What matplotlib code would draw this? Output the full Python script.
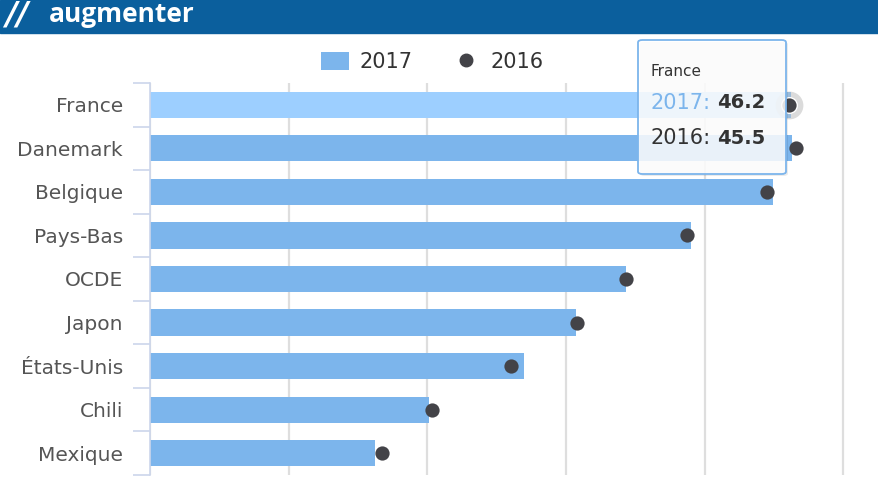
import matplotlib
matplotlib.use('Agg')
import matplotlib.pyplot as plt
from matplotlib.patches import Rectangle, FancyBboxPatch, Patch
from matplotlib.lines import Line2D

pays = ['France', 'Danemark', 'Belgique', 'Pays-Bas', 'OCDE', 'Japon',
        'États-Unis', 'Chili', 'Mexique']
valeurs_2017 = [46.2, 46.3, 44.9, 39.0, 34.3, 30.7, 27.0, 20.1, 16.2]
valeurs_2016 = [46.1, 46.6, 44.5, 38.7, 34.3, 30.8, 26.0, 20.3, 16.7]
series = ['2017', '2016']
tooltip_titre = 'France'
tooltip_valeurs = ['46.2', '45.5']

W, H = 879, 494


def px(x):
    return x / W


def py(y):
    return 1 - y / H


fig = plt.figure(figsize=(W / 100, H / 100), dpi=100)

# bandeau du haut
fig.patches.append(Rectangle((0, py(33)), 1, 33 / H, transform=fig.transFigure,
                             color='#0b5f9d', zorder=0))
fig.text(px(5), py(15), '//', color='white', fontsize=23, fontweight='heavy',
         style='italic', va='center', ha='left', family='DejaVu Sans')
fig.text(px(49), py(14), 'augmenter', color='white', fontsize=19, fontweight='bold',
         va='center', ha='left', family='Open Sans')

ax = fig.add_axes([px(150), py(475), px(860) - px(150), (475 - 83) / H])
y = list(range(len(pays)))
couleurs = ['#9dcfff'] + ['#7cb5ec'] * (len(pays) - 1)
ax.barh(y, valeurs_2017, height=0.6, color=couleurs, zorder=2)
ax.scatter(valeurs_2016[:1], y[:1], s=400, color='#9a9a9a', alpha=0.35, zorder=3, linewidths=0)
ax.scatter(valeurs_2016[:1], y[:1], s=150, color='white', zorder=3.5, linewidths=0)
ax.scatter(valeurs_2016, y, s=105, color='#434348', zorder=4, linewidths=0)

ax.set_xlim(0, 51.2)
ax.set_ylim(len(pays) - 0.5, -0.5)
ax.set_xticks([0, 10, 20, 30, 40, 50])
ax.tick_params(axis='x', length=0, labelbottom=False)
ax.grid(axis='x', color='#dedede', linewidth=1.6, zorder=1)
ax.set_yticks(y)
ax.set_yticklabels(pays, fontsize=14.5, color='#555555', family='DejaVu Sans')
ax.tick_params(axis='y', which='major', length=0, pad=19.5)
ax.set_yticks([i - 0.5 for i in range(len(pays) + 1)], minor=True)
ax.tick_params(axis='y', which='minor', length=12.5, width=1.2, color='#ccd6eb')
for s in ['top', 'right', 'bottom']:
    ax.spines[s].set_visible(False)
ax.spines['left'].set_color('#ccd6eb')
ax.spines['left'].set_linewidth(1.2)
ax.spines['left'].set_zorder(5)

# légende
handles = [Patch(facecolor='#7cb5ec', edgecolor='none'),
           Line2D([], [], marker='o', linestyle='none', color='#434348', markersize=9)]
fig.legend(handles, series, loc='center', bbox_to_anchor=(px(432), py(62)), ncol=2,
           frameon=False, fontsize=15, labelcolor='#333333', handlelength=1.35,
           handleheight=1.0, handletextpad=0.5, columnspacing=1.9)

# infobulle
ombre = FancyBboxPatch((px(640), py(176)), px(786) - px(638), (176 - 42) / H,
                       boxstyle='round,pad=0,rounding_size=0.005', transform=fig.transFigure,
                       facecolor='#000000', alpha=0.08, edgecolor='none', zorder=6)
boite = FancyBboxPatch((px(638), py(174)), px(786) - px(638), (174 - 40) / H,
                       boxstyle='round,pad=0,rounding_size=0.005', transform=fig.transFigure,
                       facecolor=(1, 1, 1, 0.85), edgecolor='#7cb5ec', linewidth=1.3,
                       zorder=7)
fig.patches.extend([ombre, boite])
fig.text(px(651), py(71), tooltip_titre, fontsize=11, color='#333333', va='center',
         ha='left', zorder=8)
fig.text(px(651), py(103), series[0] + ':', fontsize=15, color='#7cb5ec', va='center',
         ha='left', zorder=8)
fig.text(px(717), py(103), tooltip_valeurs[0], fontsize=14, color='#333333',
         fontweight='bold', va='center', ha='left', zorder=8)
fig.text(px(651), py(138), series[1] + ':', fontsize=15, color='#333333', va='center',
         ha='left', zorder=8)
fig.text(px(717), py(138), tooltip_valeurs[1], fontsize=14, color='#333333',
         fontweight='bold', va='center', ha='left', zorder=8)

fig.savefig('out.png', dpi=100)
